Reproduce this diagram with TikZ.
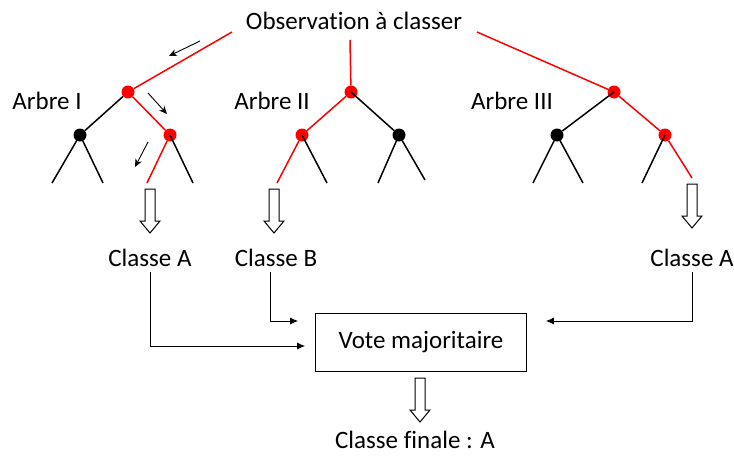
\documentclass[tikz,border=0pt]{standalone}
\usepackage{fontspec}
\setmainfont{Carlito}[Ligatures=NoCommon]
\usetikzlibrary{arrows.meta}
\tikzset{
  rdot/.style={circle,fill=red,inner sep=0pt,minimum size=13pt},
  bdot/.style={circle,fill=black,inner sep=0pt,minimum size=13pt},
  redge/.style={red,line width=1.5pt},
  bedge/.style={black,line width=1.5pt},
  lbl/.style={font=\fontsize{25}{28}\selectfont,inner sep=0pt},
  conn/.style={-{Latex[length=8pt,width=7pt]},line width=0.8pt},
  hint/.style={-{Stealth[length=8pt,width=7pt]},line width=0.9pt},
  hollowdown/.pic={\draw[line width=1pt,fill=white] (-5,0) -- (5,0) -- (5,32) -- (10,32) -- (0,44) -- (-10,32) -- (-5,32) -- cycle;}
}
\begin{document}
\begin{tikzpicture}[x=1pt,y=-1pt]
\useasboundingbox (0,0) rectangle (734,461);
\node[lbl] (obs) at (354,21) {Observation à classer};
\coordinate (o1) at (232,32);
\coordinate (o2) at (350,40);
\coordinate (o3) at (477,32);
% arbre I
\node[lbl] (t1) at (47,101) {Arbre I};
\node[rdot] (a0) at (128,92) {};
\node[bdot] (a1) at (80,135) {};
\node[rdot] (a2) at (170,135) {};
\coordinate (a3) at (52,183);
\coordinate (a4) at (103,183);
\coordinate (a5) at (147,183);
\coordinate (a6) at (193,183);
% arbre II
\node[lbl] (t2) at (272,101) {Arbre II};
\node[rdot] (b0) at (351,92) {};
\node[rdot] (b1) at (302,135) {};
\node[bdot] (b2) at (399,135) {};
\coordinate (b3) at (277,183);
\coordinate (b4) at (327,183);
\coordinate (b5) at (378,183);
\coordinate (b6) at (425,180);
% arbre III
\node[lbl] (t3) at (512,101) {Arbre III};
\node[rdot] (c0) at (614,92) {};
\node[bdot] (c1) at (557,135) {};
\node[rdot] (c2) at (665,135) {};
\coordinate (c3) at (533,183);
\coordinate (c4) at (583,183);
\coordinate (c5) at (642,183);
\coordinate (c6) at (692,178);
\draw[redge] (o1) -- (a0);
\draw[redge] (o2) -- (b0);
\draw[redge] (o3) -- (c0);
\draw[bedge] (a0) -- (a1);
\draw[redge] (a0) -- (a2);
\draw[bedge] (a1.center) -- (a3);
\draw[bedge] (a1.center) -- (a4);
\draw[redge] (a2) -- (a5);
\draw[bedge] (a2.center) -- (a6);
\draw[redge] (b0) -- (b1);
\draw[bedge] (b0.center) -- (b2);
\draw[redge] (b1) -- (b3);
\draw[bedge] (b1.center) -- (b4);
\draw[bedge] (b2.center) -- (b5);
\draw[bedge] (b2.center) -- (b6);
\draw[bedge] (c0.center) -- (c1);
\draw[redge] (c0) -- (c2);
\draw[bedge] (c1.center) -- (c3);
\draw[bedge] (c1.center) -- (c4);
\draw[bedge] (c2.center) -- (c5);
\draw[redge] (c2) -- (c6);
% petites fleches
\coordinate (h1) at (200,41);
\coordinate (h2) at (169,56);
\coordinate (h3) at (148,93);
\coordinate (h4) at (167,114);
\coordinate (h5) at (148,142);
\coordinate (h6) at (135,167);
\draw[hint] (h1) -- (h2);
\draw[hint] (h3) -- (h4);
\draw[hint] (h5) -- (h6);
% classes
\pic at (150,189) {hollowdown};
\pic at (274,189) {hollowdown};
\pic at (692,184) {hollowdown};
\node[lbl] (k1) at (150,258) {Classe A};
\node[lbl] (k2) at (276,258) {Classe B};
\node[lbl] (k3) at (692,258) {Classe A};
\node[lbl,draw,line width=0.8pt,minimum width=211pt,minimum height=58pt] (vote) at (421,342) {Vote majoritaire};
\draw[conn,shorten >=10pt] ([yshift=-5pt]k1.south) |- ([yshift=-4pt]vote.west);
\draw[conn,shorten >=17pt] ([xshift=-6pt,yshift=-5pt]k2.south) |- ([yshift=21pt]vote.west);
\draw[conn,shorten >=19pt] ([yshift=-5pt]k3.south) |- ([yshift=21pt]vote.east);
\pic at (420,378) {hollowdown};
\node[lbl] (fin) at (415,440) {Classe finale : A};
\end{tikzpicture}
\end{document}
